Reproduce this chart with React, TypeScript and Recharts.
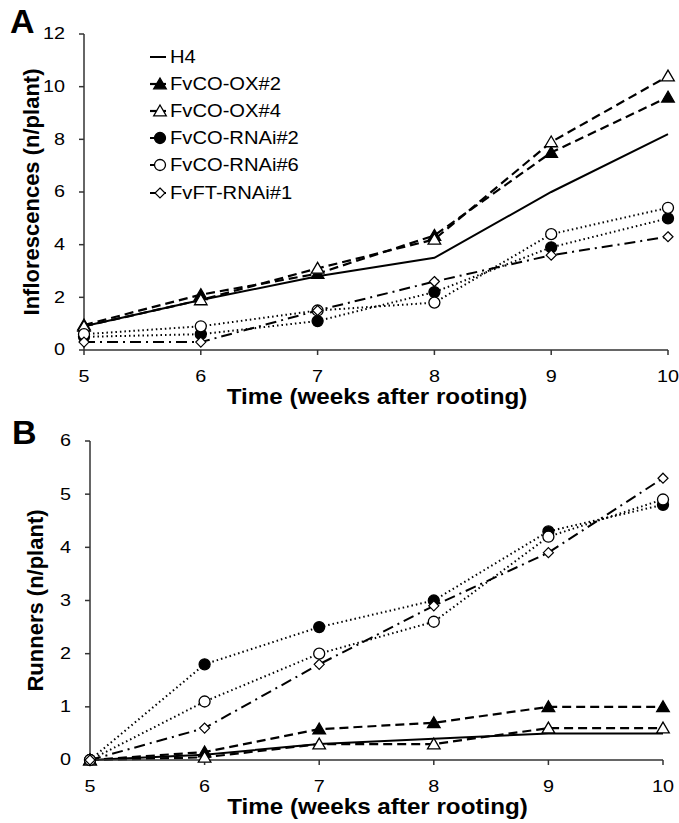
import React from 'react';
import { LineChart, Line, XAxis, YAxis, Legend, Label } from 'recharts';

const weeks = [5, 6, 7, 8, 9, 10];
const seriesNames = ['H4', 'FvCO-OX#2', 'FvCO-OX#4', 'FvCO-RNAi#2', 'FvCO-RNAi#6', 'FvFT-RNAi#1'];
const seriesKeys = ['h4', 'ox2', 'ox4', 'rnai2', 'rnai6', 'ft1'];

// Panel A: Inflorescences (n/plant)
const inflH4 = [0.9, 1.9, 2.8, 3.5, 6.0, 8.2];
const inflOx2 = [0.95, 2.1, 2.9, 4.35, 7.5, 9.6];
const inflOx4 = [0.9, 1.9, 3.1, 4.2, 7.9, 10.4];
const inflRnai2 = [0.5, 0.6, 1.1, 2.2, 3.9, 5.0];
const inflRnai6 = [0.6, 0.9, 1.5, 1.8, 4.4, 5.4];
const inflFt1 = [0.3, 0.3, 1.5, 2.6, 3.6, 4.3];

// Panel B: Runners (n/plant)
const runH4 = [0, 0.1, 0.3, 0.4, 0.5, 0.5];
const runOx2 = [0, 0.15, 0.58, 0.7, 1.0, 1.0];
const runOx4 = [0, 0.05, 0.3, 0.3, 0.6, 0.6];
const runRnai2 = [0, 1.8, 2.5, 3.0, 4.3, 4.8];
const runRnai6 = [0, 1.1, 2.0, 2.6, 4.2, 4.9];
const runFt1 = [0, 0.6, 1.8, 2.9, 3.9, 5.3];

const yTicksA = [0, 2, 4, 6, 8, 10, 12];
const yTicksB = [0, 1, 2, 3, 4, 5, 6];

const build = (cols: number[][]) =>
  weeks.map((w, i) => {
    const row: any = { week: w };
    seriesKeys.forEach((k, j) => (row[k] = cols[j][i]));
    return row;
  });

const dataA = build([inflH4, inflOx2, inflOx4, inflRnai2, inflRnai6, inflFt1]);
const dataB = build([runH4, runOx2, runOx4, runRnai2, runRnai6, runFt1]);

type MarkerKind = 'none' | 'triFill' | 'triOpen' | 'circFill' | 'circOpen' | 'diamond';
const styles: { dash: string; marker: MarkerKind; width: number }[] = [
  { dash: '', marker: 'none', width: 2 },
  { dash: '9 5', marker: 'triFill', width: 2.2 },
  { dash: '9 5', marker: 'triOpen', width: 2.2 },
  { dash: '1.5 3', marker: 'circFill', width: 2 },
  { dash: '1.5 3', marker: 'circOpen', width: 2 },
  { dash: '11 5 2 5', marker: 'diamond', width: 2 },
];

const FONT = '"Liberation Sans", Arial, sans-serif';
const AXIS = '#333';

function Marker({ cx, cy, kind }: { cx: number; cy: number; kind: MarkerKind }) {
  if (cx == null || cy == null || kind === 'none') return null;
  if (kind === 'triFill' || kind === 'triOpen') {
    const s = 6;
    const pts = `${cx},${cy - s} ${cx + s * 1.05},${cy + s * 0.8} ${cx - s * 1.05},${cy + s * 0.8}`;
    return <polygon points={pts} fill={kind === 'triFill' ? '#000' : '#fff'} stroke="#000" strokeWidth={1.3} />;
  }
  if (kind === 'circFill' || kind === 'circOpen') {
    return <circle cx={cx} cy={cy} r={5.5} fill={kind === 'circFill' ? '#000' : '#fff'} stroke="#000" strokeWidth={1.3} />;
  }
  const d = 5;
  const pts = `${cx},${cy - d} ${cx + d},${cy} ${cx},${cy + d} ${cx - d},${cy}`;
  return <polygon points={pts} fill="#fff" stroke="#000" strokeWidth={1.2} />;
}

const YTick = (props: any) => {
  const { x, y, payload } = props;
  return (
    <text
      transform={`translate(${x},${y}) scale(1.2,1)`}
      textAnchor="end"
      dominantBaseline="central"
      fontFamily={FONT}
      fontSize={16.5}
      fill="#000"
    >
      {payload.value}
    </text>
  );
};

const XTick = (props: any) => {
  const { x, y, payload } = props;
  return (
    <text
      transform={`translate(${x},${y + 25}) scale(1.2,1)`}
      textAnchor="middle"
      fontFamily={FONT}
      fontSize={16.5}
      fill="#000"
    >
      {payload.value}
    </text>
  );
};

const XTitle = (props: any) => {
  const vb = props.viewBox || {};
  const cx = vb.x + vb.width / 2 + 1;
  return (
    <text
      transform={`translate(${cx},${vb.y + 54}) scale(1.1,1)`}
      textAnchor="middle"
      fontFamily={FONT}
      fontSize={22}
      fontWeight="bold"
      fill="#000"
    >
      Time (weeks after rooting)
    </text>
  );
};

const makeYTitle = (text: string, cx: number) => (props: any) => {
  const vb = props.viewBox || {};
  const cy = vb.y + vb.height / 2;
  return (
    <text
      transform={`translate(${cx},${cy}) rotate(-90)`}
      textAnchor="middle"
      dominantBaseline="central"
      fontFamily={FONT}
      fontSize={22}
      fontWeight="bold"
      fill="#000"
    >
      {text}
    </text>
  );
};

const LegendContent = (props: any) => {
  const payload = [...(props.payload || [])].sort(
    (a: any, b: any) => seriesKeys.indexOf(a.dataKey) - seriesKeys.indexOf(b.dataKey)
  );
  return (
    <div style={{ fontFamily: FONT }}>
      {payload.map((entry: any, i: number) => {
        const idx = seriesKeys.indexOf(entry.dataKey);
        const st = styles[idx];
        return (
          <div key={i} style={{ height: 27.2, display: 'flex', alignItems: 'center' }}>
            <svg width={21} height={20} style={{ display: 'block', flex: 'none' }}>
              <line x1={1} y1={10} x2={17} y2={10} stroke="#000" strokeWidth={st.width} />
              <Marker cx={11} cy={10} kind={st.marker} />
            </svg>
            <span
              style={{
                display: 'inline-block',
                fontSize: 18,
                lineHeight: '20px',
                color: '#000',
                transform: 'scale(1.12,1)',
                transformOrigin: 'left center',
                whiteSpace: 'nowrap',
              }}
            >
              {entry.value}
            </span>
          </div>
        );
      })}
    </div>
  );
};

const renderLines = (prefix: string) =>
  seriesKeys.map((k, j) => (
    <Line
      key={k}
      dataKey={k}
      name={seriesNames[j]}
      stroke="#000"
      strokeWidth={styles[j].width}
      strokeDasharray={styles[j].dash}
      isAnimationActive={false}
      legendType="line"
      dot={
        styles[j].marker === 'none'
          ? false
          : (p: any) => <Marker key={`${prefix}-${k}-${p.index}`} cx={p.cx} cy={p.cy} kind={styles[j].marker} />
      }
      activeDot={false}
    />
  ));

export default function App() {
  return (
    <div style={{ position: 'absolute', left: 0, top: 0, width: 679, height: 823, background: '#fff', fontFamily: FONT }}>
      <div style={{ position: 'absolute', left: 0, top: 0 }}>
        <LineChart width={679} height={415} data={dataA} margin={{ top: 34, right: 11, left: 0, bottom: 0 }}>
          <XAxis
            dataKey="week"
            type="number"
            domain={[5, 10]}
            ticks={weeks}
            height={65}
            axisLine={{ stroke: AXIS, strokeWidth: 1.5 }}
            tickLine={{ stroke: AXIS, strokeWidth: 1.5 }}
            tickSize={5}
            tick={<XTick />}
            interval={0}
          >
            <Label content={<XTitle />} />
          </XAxis>
          <YAxis
            type="number"
            domain={[0, 12]}
            ticks={yTicksA}
            width={84}
            axisLine={{ stroke: AXIS, strokeWidth: 1.5 }}
            tickLine={{ stroke: AXIS, strokeWidth: 1.5 }}
            tickSize={5}
            tickMargin={14}
            tick={<YTick />}
            interval={0}
          >
            <Label content={makeYTitle('Inflorescences (n/plant)', 31)} />
          </YAxis>
          <Legend
            layout="vertical"
            align="center"
            verticalAlign="middle"
            content={<LegendContent />}
            wrapperStyle={{ position: 'absolute', left: 149, top: 43, width: 220 }}
          />
          {renderLines('a')}
          <text x={10} y={33} fontFamily={FONT} fontSize={34} fontWeight="bold" fill="#000">
            A
          </text>
        </LineChart>
      </div>
      <div style={{ position: 'absolute', left: 0, top: 400 }}>
        <LineChart width={679} height={423} data={dataB} margin={{ top: 41, right: 16, left: 0, bottom: 0 }}>
          <XAxis
            dataKey="week"
            type="number"
            domain={[5, 10]}
            ticks={weeks}
            height={63}
            axisLine={{ stroke: AXIS, strokeWidth: 1.5 }}
            tickLine={{ stroke: AXIS, strokeWidth: 1.5 }}
            tickSize={5}
            tick={<XTick />}
            interval={0}
          >
            <Label content={<XTitle />} />
          </XAxis>
          <YAxis
            type="number"
            domain={[0, 6]}
            ticks={yTicksB}
            width={90}
            axisLine={{ stroke: AXIS, strokeWidth: 1.5 }}
            tickLine={{ stroke: AXIS, strokeWidth: 1.5 }}
            tickSize={5}
            tickMargin={14}
            tick={<YTick />}
            interval={0}
          >
            <Label content={makeYTitle('Runners (n/plant)', 35)} />
          </YAxis>
          {renderLines('b')}
          <text x={12} y={44} fontFamily={FONT} fontSize={34} fontWeight="bold" fill="#000">
            B
          </text>
        </LineChart>
      </div>
    </div>
  );
}
